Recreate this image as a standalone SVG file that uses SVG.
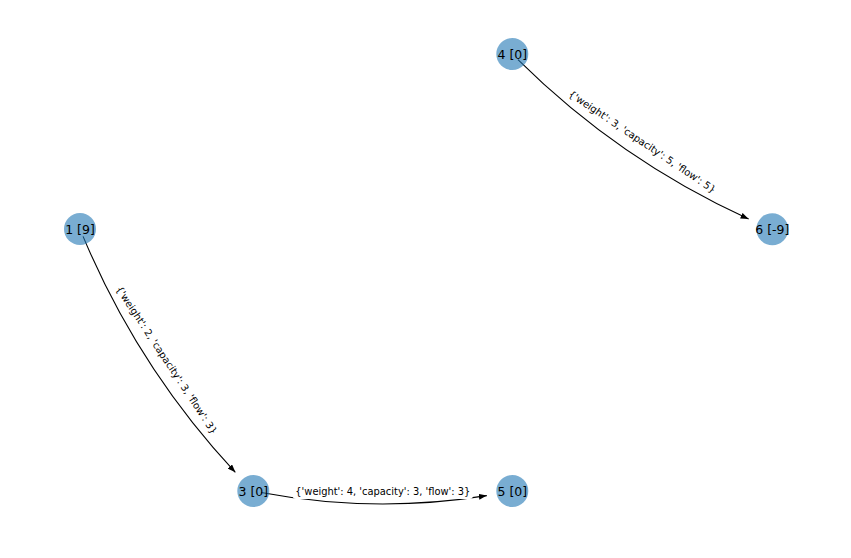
<svg xmlns="http://www.w3.org/2000/svg" width="851" height="558" viewBox="0 0 851 558">
<style>
.edge{fill:none;stroke:#000;stroke-width:1.1;marker-end:url(#ah)}
.node circle{fill:#1f77b4;fill-opacity:0.6;stroke:none}
.node text{font-family:"DejaVu Sans",sans-serif;font-size:12.5px;fill:#000;text-anchor:middle;dominant-baseline:central}
.elabel rect{fill:#fff;stroke:none}
.elabel text{font-family:"DejaVu Sans",sans-serif;font-size:9.9px;fill:#000;text-anchor:middle;dominant-baseline:central}
</style>
<defs>
<marker id="ah" viewBox="0 0 8 6" refX="8" refY="3" markerWidth="8" markerHeight="6" markerUnits="userSpaceOnUse" orient="auto">
<path d="M0,0 L8,3 L0,6 Z" fill="#000"/>
</marker>
</defs>
<rect width="851" height="558" fill="#fff"/>
<g id="connectors">
<path class="edge" d="M517.95,59.65 Q619.28,160.09 748.63,218.97"/>
<path class="edge" d="M83.06,236.39 Q138.27,368.23 235.36,472.36"/>
<path class="edge" d="M261.15,492.52 Q373.98,513.72 486.82,495.6"/>
</g>
<g id="edge-labels">
<g class="elabel" transform="translate(642.3,141.65) rotate(34)">
<rect x="-90" y="-8" width="180" height="16" rx="3"/>
<text x="0" y="0">{'weight': 3, 'capacity': 5, 'flow': 5}</text>
</g>
<g class="elabel" transform="translate(166.65,360) rotate(56.5)">
<rect x="-90" y="-8" width="180" height="16" rx="3"/>
<text x="0" y="0">{'weight': 2, 'capacity': 3, 'flow': 3}</text>
</g>
<g class="elabel" transform="translate(382.8,491)">
<rect x="-90" y="-8" width="180" height="16" rx="3"/>
<text x="0" y="0">{'weight': 4, 'capacity': 3, 'flow': 3}</text>
</g>
</g>
<g id="node-1" class="node"><circle cx="80" cy="229" r="16"/><text x="80" y="229">1 [9]</text></g>
<g id="node-3" class="node"><circle cx="253.3" cy="491" r="16"/><text x="253.3" y="491">3 [0]</text></g>
<g id="node-4" class="node"><circle cx="512.3" cy="54" r="16"/><text x="512.3" y="54">4 [0]</text></g>
<g id="node-5" class="node"><circle cx="512.3" cy="491" r="16"/><text x="512.3" y="491">5 [0]</text></g>
<g id="node-6" class="node"><circle cx="772.3" cy="229.3" r="16"/><text x="772.3" y="229.3">6 [-9]</text></g>
</svg>
